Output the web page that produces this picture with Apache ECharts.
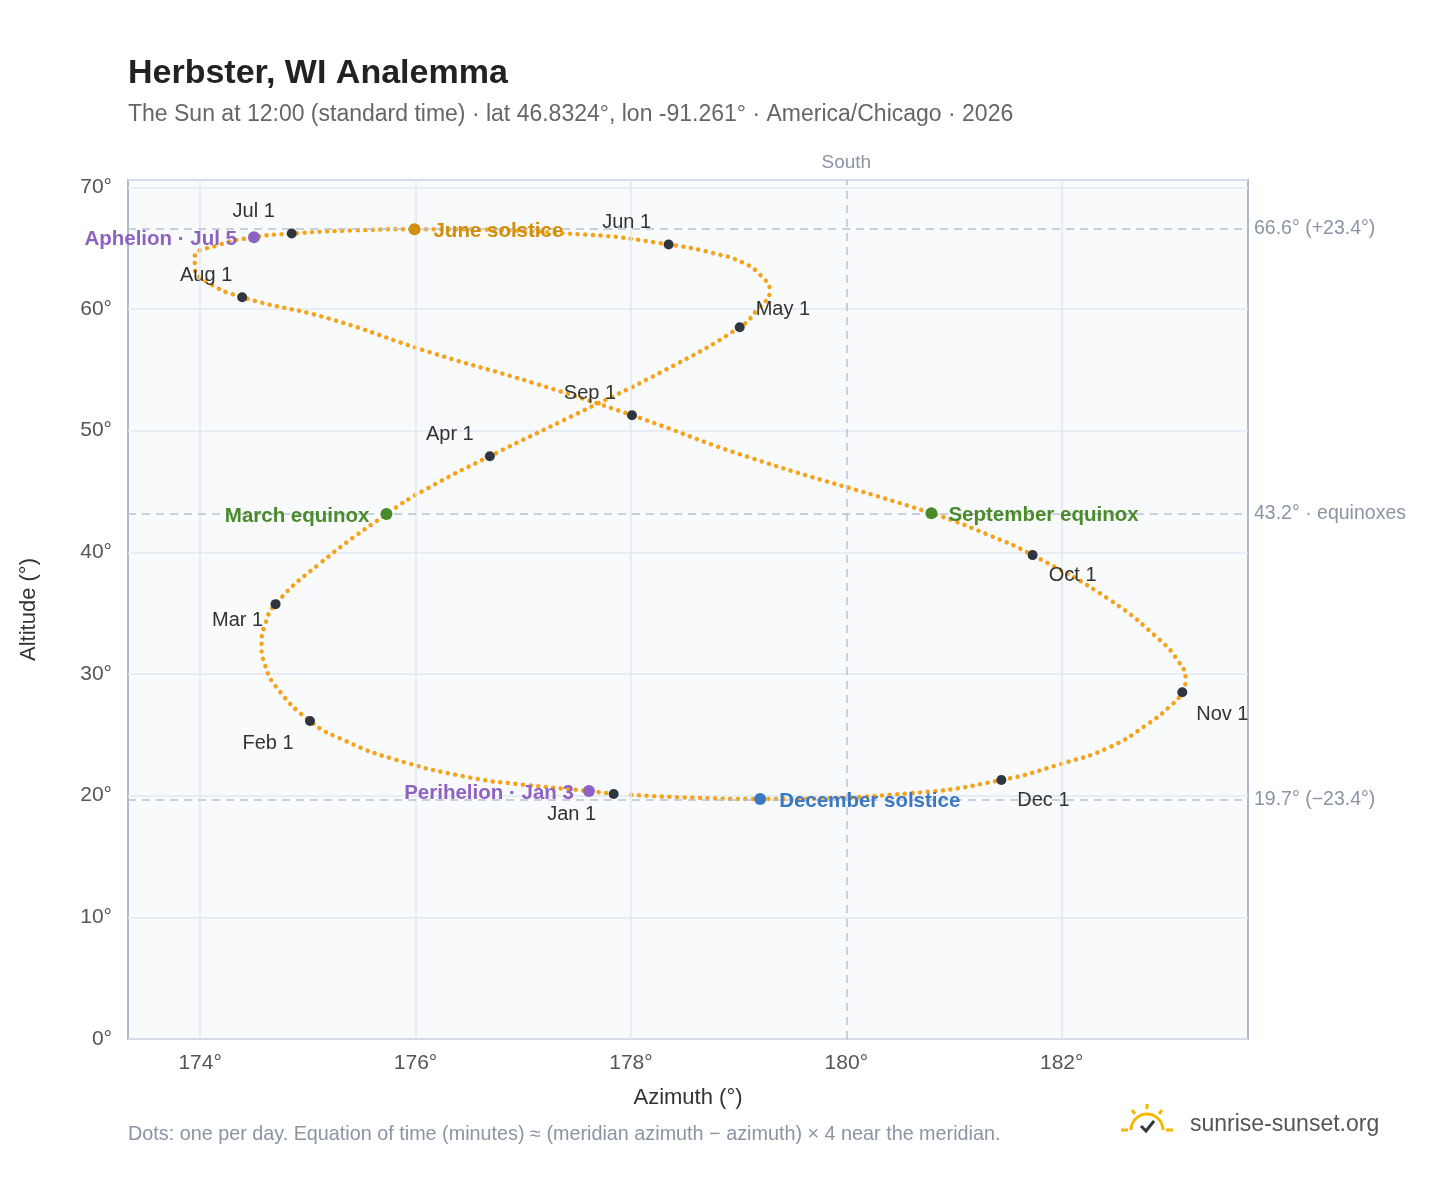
<!DOCTYPE html>
<html><head><meta charset="utf-8">
<script src="https://cdn.jsdelivr.net/npm/echarts@6/dist/echarts.min.js"></script>
<style>html,body{margin:0;background:#fff}#c{width:1448px;height:1188px}</style></head>
<body><div id="c"></div>
<script>
const pathAz = [177.84,177.61,177.0,176.5,175.8,175.35,175.02,174.7,174.6,174.57,174.6,174.7,175.1,175.73,176.1,176.69,177.5,178.3,179.01,179.17,179.29,179.2,179.04,178.76,178.35,177.6,176.0,175.4,174.85,174.5,174.15,173.95,173.95,174.05,174.39,175.2,176.13,177.1,178.01,179.1,180.79,181.3,181.73,182.45,182.91,183.07,183.15,183.12,183.0,182.8,182.45,181.99,181.44,180.6,179.2,178.5,177.95];
const pathAlt = [20.13,20.38,20.9,21.5,23.0,24.5,26.13,29.0,30.8,32.3,34.0,35.74,39.0,43.14,45.2,47.9,51.4,54.9,58.5,59.9,61.5,62.8,63.8,64.6,65.3,66.1,66.56,66.45,66.2,65.9,65.2,64.3,63.4,62.3,60.97,59.2,56.45,53.9,51.27,47.8,43.22,41.5,39.77,36.07,32.8,31.2,29.6,28.5,27.3,25.9,24.0,22.6,21.28,20.2,19.72,19.85,20.1];
const monthNames = ["Jan 1","Feb 1","Mar 1","Apr 1","May 1","Jun 1","Jul 1","Aug 1","Sep 1","Oct 1","Nov 1","Dec 1"];
const monthAz = [177.84,175.02,174.70,176.69,179.01,178.35,174.85,174.39,178.01,181.73,183.12,181.44];
const monthAlt = [20.13,26.13,35.74,47.9,58.5,65.3,66.2,60.97,51.27,39.77,28.5,21.28];
const eventNames = ["Perihelion · Jan 3","Aphelion · Jul 5","June solstice","December solstice","March equinox","September equinox"];
const eventAz = [177.61,174.50,175.99,179.20,175.73,180.79];
const eventAlt = [20.38,65.9,66.56,19.72,43.14,43.22];
const refAlt = [66.6,43.2,19.7];
const refLabels = ["66.6° (+23.4°)","43.2° · equinoxes","19.7° (−23.4°)"];
const xTicks = [174,176,178,180,182];

const evColors = ["#8e62c0","#8e62c0","#d08f0c","#3a78c2","#4a8a2a","#4a8a2a"];
const evPos = [
 {position:'left',offset:[-4,2]},{position:'left',offset:[-6,2]},{position:'right',offset:[8,2]},
 {position:'right',offset:[8,2]},{position:'left',offset:[-6,2]},{position:'right',offset:[6,2]}];
const mPos = [
 {position:'bottom',offset:[-42,0]},{position:'bottom',offset:[-42,2]},{position:'bottom',offset:[-38,-4]},
 {position:'top',offset:[-40,-2]},{position:'right',offset:[6,-18]},{position:'top',offset:[-42,-2]},
 {position:'top',offset:[-38,-2]},{position:'top',offset:[-36,-2]},{position:'top',offset:[-42,-2]},
 {position:'bottom',offset:[40,0]},{position:'bottom',offset:[40,2]},{position:'bottom',offset:[42,0]}];

const chart = echarts.init(document.getElementById('c'));
const font = 'Liberation Sans, Arial, sans-serif';
chart.setOption({
 animation:false,
 textStyle:{fontFamily:font},
 title:{text:'Herbster, WI Analemma',left:123,top:52,textStyle:{fontSize:34,fontWeight:'bold',color:'#222'},
  subtext:'The Sun at 12:00 (standard time) · lat 46.8324°, lon -91.261° · America/Chicago · 2026',
  subtextStyle:{fontSize:23,color:'#666'},itemGap:12},
 grid:{left:128,right:200,top:180,bottom:149,show:true,backgroundColor:'#f8fafc',borderColor:'#94a3b8',borderWidth:1.5},
 xAxis:{type:'value',min:173.33,max:183.73,name:'Azimuth (°)',nameLocation:'middle',nameGap:48,
  nameTextStyle:{fontSize:22,color:'#333'},
  axisLine:{show:false},axisTick:{show:false},splitLine:{show:false},
  axisLabel:{customValues:xTicks,formatter:v=>Math.round(v)+'°',fontSize:21,color:'#555',margin:14}},
 yAxis:{type:'value',min:0,max:70.6,interval:10,name:'Altitude (°)',nameLocation:'middle',nameGap:88,
  nameTextStyle:{fontSize:22,color:'#333'},
  axisLine:{show:false},axisTick:{show:false},splitLine:{lineStyle:{color:'#e2e8f0',width:1.5}},
  axisLabel:{formatter:'{value}°',fontSize:21,color:'#555',margin:16,showMaxLabel:false}},
 series:[
  {type:'line',data:[],silent:true,
   markLine:{symbol:'none',silent:true,label:{show:false},lineStyle:{color:'#e2e8f0',type:'solid',width:1.5},
    data:xTicks.filter(v=>v!==180).map(v=>({xAxis:v}))}},
  {type:'line',data:[],silent:true,
   markLine:{symbol:'none',silent:true,lineStyle:{color:'#b8c2cf',type:[8,6],width:1.5},
    data:[{xAxis:180,label:{show:true,formatter:'South',position:'end',color:'#8a94a3',fontSize:19,distance:8}}]
     .concat(refAlt.map((v,i)=>({yAxis:v,label:{show:true,formatter:refLabels[i],position:'end',color:'#8a94a3',fontSize:19.5,distance:6}})))}},
  {type:'line',data:pathAz.map((v,i)=>[v,pathAlt[i]]),smooth:0.5,symbol:'none',z:2,
   lineStyle:{color:'#f5a31a',width:4.5,type:[0.1,7.5],cap:'round'}},
  {type:'scatter',z:5,data:monthAz.map((v,i)=>({value:[v,monthAlt[i]],label:Object.assign({show:true,formatter:monthNames[i]},mPos[i])})),
   symbolSize:10,itemStyle:{color:'#2f3640',opacity:1},label:{fontSize:20,color:'#333'}},
  {type:'scatter',z:6,data:eventAz.map((v,i)=>({value:[v,eventAlt[i]],itemStyle:{color:evColors[i],opacity:1},
    label:Object.assign({show:true,formatter:eventNames[i],color:evColors[i]},evPos[i])})),
   symbolSize:12,label:{fontSize:20.5,fontWeight:'bold'}}
 ],
 graphic:[
  {type:'text',left:128,top:1125,style:{text:'Dots: one per day. Equation of time (minutes) ≈ (meridian azimuth − azimuth) × 4 near the meridian.',fontSize:19.8,fill:'#8a94a3',fontFamily:font}},
  {type:'text',left:1190,top:1113,style:{text:'sunrise-sunset.org',fontSize:23,fill:'#555',fontFamily:font}},
  {type:'arc',shape:{cx:1147,cy:1130,r:16,startAngle:Math.PI,endAngle:2*Math.PI},style:{stroke:'#f5b800',lineWidth:3,fill:'none'}},
  {type:'polyline',shape:{points:[[1141,1126],[1146,1131],[1154,1121]]},style:{stroke:'#2f3640',lineWidth:3,fill:'none'}},
  {type:'line',shape:{x1:1147,y1:1104,x2:1147,y2:1109},style:{stroke:'#f5b800',lineWidth:3}},
  {type:'line',shape:{x1:1132,y1:1110,x2:1135,y2:1114},style:{stroke:'#f5b800',lineWidth:3}},
  {type:'line',shape:{x1:1162,y1:1110,x2:1159,y2:1114},style:{stroke:'#f5b800',lineWidth:3}},
  {type:'line',shape:{x1:1121,y1:1130,x2:1128,y2:1130},style:{stroke:'#f5b800',lineWidth:3}},
  {type:'line',shape:{x1:1166,y1:1130,x2:1173,y2:1130},style:{stroke:'#f5b800',lineWidth:3}}
 ]
});
</script></body></html>
